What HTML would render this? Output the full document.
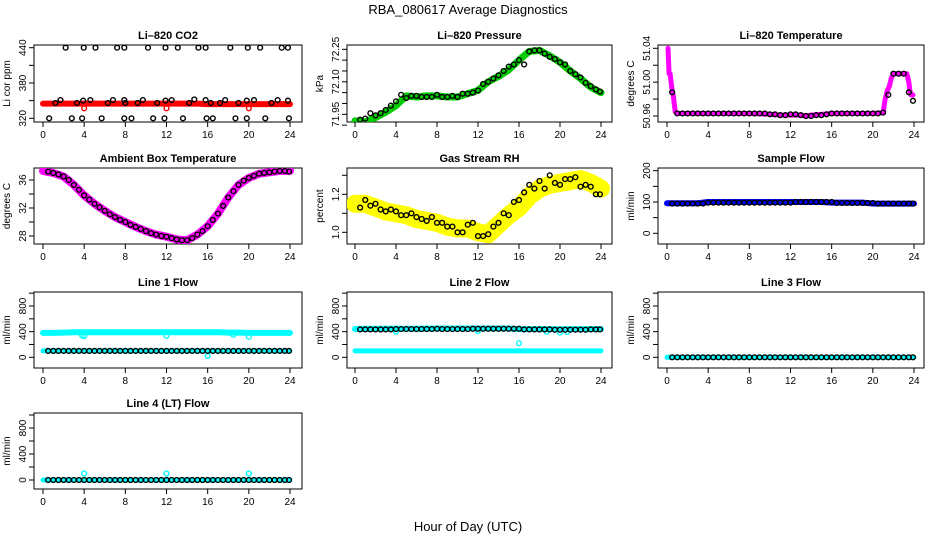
<!DOCTYPE html>
<html><head><meta charset="utf-8"><style>
html,body{margin:0;padding:0;background:#fff}
svg{display:block;font-family:"Liberation Sans",Arial,sans-serif}
</style></head><body>
<svg id="chart" width="936" height="540" viewBox="0 0 936 540">
<text x="468" y="14" font-size="13" text-anchor="middle">RBA_080617  Average Diagnostics</text>
<text x="468" y="531" font-size="13" text-anchor="middle">Hour of Day (UTC)</text>
</svg>
<script>
const blackHours=[0.5,1,1.5,2,2.5,3,3.5,4,4.5,5,5.5,6,6.5,7,7.5,8,8.5,9,9.5,10,10.5,11,11.5,12,12.5,13,13.5,14,14.5,15,15.5,16,16.5,17,17.5,18,18.5,19,19.5,20,20.5,21,21.5,22,22.5,23,23.5,23.9];
const bandHours=[0,1,2,3,4,5,6,7,8,9,10,11,12,13,14,15,16,17,18,19,20,21,22,23,24];

const co2Band=[345,345,345,345,345,345,345,345,345,345,345,345,345,345,345,345,344,344,344,344,344,344,344,344,344];
const co2HighHours=[2.2,3.96,5.1,7.2,7.9,10.2,11.9,13.1,15.1,15.8,18.2,19.9,21.1,23.2,23.8];
const co2LowHours=[0.6,2.8,3.8,5.7,7.9,8.6,10.7,11.8,13.6,15.9,16.5,18.7,19.8,21.6,23.9];
const co2MidHours=[1.2,1.7,3.3,3.9,4.6,6.3,6.8,7.9,8.0,9.2,9.7,11.1,11.9,12.5,14.2,14.7,15.8,16.3,17.2,17.7,19.0,19.8,20.5,22.2,22.8,23.8];
const co2MidValues=[346,351,346,350,351,346,351,351,346,346,351,346,350,351,346,352,351,346,346,351,346,350,351,346,351,350];
const co2RedOutHours=[4,12,20];
const co2RedOutValues=[337,337,337];

const presBand=[71.92,71.915,71.935,71.96,71.99,72.035,72.03,72.035,72.035,72.03,72.03,72.045,72.06,72.10,72.125,72.155,72.20,72.24,72.245,72.22,72.19,72.15,72.115,72.075,72.05];
const presBlack=[71.925,71.93,71.955,71.945,71.955,71.97,71.99,72.01,72.04,72.025,72.035,72.035,72.03,72.03,72.03,72.04,72.03,72.03,72.035,72.03,72.045,72.045,72.05,72.06,72.09,72.10,72.115,72.13,72.15,72.17,72.18,72.2,72.18,72.24,72.245,72.245,72.23,72.215,72.205,72.19,72.18,72.15,72.135,72.12,72.095,72.08,72.065,72.055];

const ltempHours=[0.1,0.2,0.3,0.4,0.5,0.6,0.7,0.8,1,4,8,10,11,12,13,13.5,14,15,16,20,21,21.2,21.4,21.6,21.8,22,22.5,23,23.3,23.5,23.6,23.7,23.9];
const ltempBand=[51.04,51.01,51.01,51.0,50.99,50.985,50.975,50.965,50.963,50.963,50.963,50.962,50.961,50.961,50.961,50.960,50.961,50.962,50.963,50.963,50.964,50.98,50.99,50.995,51.005,51.01,51.01,51.01,51.01,51.0,50.99,50.985,50.985];
const ltempBlack=[50.988,50.963,50.963,50.963,50.963,50.963,50.963,50.963,50.963,50.963,50.963,50.963,50.963,50.963,50.963,50.963,50.963,50.963,50.963,50.962,50.962,50.961,50.961,50.962,50.962,50.961,50.960,50.960,50.961,50.961,50.962,50.963,50.963,50.963,50.963,50.963,50.963,50.963,50.963,50.963,50.963,50.964,50.985,51.01,51.01,51.01,50.988,50.978];

const ambBand=[37.3,37.0,36.5,35.3,33.8,32.6,31.6,30.7,30.0,29.3,28.7,28.2,27.9,27.5,27.4,28.2,29.4,31.2,33.5,35.3,36.3,36.9,37.1,37.3,37.3];
const ambBlack=[37.2,37.0,36.8,36.5,36.0,35.3,34.6,33.8,33.2,32.6,32.1,31.6,31.1,30.7,30.3,30.0,29.6,29.3,29.0,28.7,28.4,28.2,28.0,27.9,27.7,27.5,27.4,27.4,27.7,28.2,28.7,29.4,30.3,31.2,32.3,33.5,34.4,35.3,35.9,36.3,36.6,36.9,37.0,37.1,37.2,37.3,37.3,37.2];

const rhBand=[1.15,1.15,1.13,1.11,1.10,1.09,1.07,1.06,1.05,1.03,1.02,1.02,1.00,0.99,1.04,1.09,1.13,1.19,1.23,1.25,1.26,1.27,1.28,1.26,1.23];
const rhBlack=[1.13,1.17,1.14,1.15,1.12,1.11,1.12,1.11,1.09,1.09,1.10,1.08,1.07,1.06,1.08,1.05,1.05,1.03,1.03,1.00,1.00,1.04,1.05,0.98,0.98,0.99,1.03,1.05,1.10,1.09,1.16,1.17,1.21,1.25,1.23,1.27,1.23,1.30,1.26,1.25,1.28,1.28,1.29,1.24,1.25,1.24,1.20,1.20];

const sampleBand=[96,96,96,96,100,100,100,100,100,100,100,100,100,100,100,100,98,98,98,98,95,95,95,95,95];
const sampleBlack=[95,95,95,95,95,95,95,98,98,98,98,98,98,98,98,98,98,98,98,98,98,98,98,98,100,100,100,100,100,100,100,100,97,97,97,97,97,97,97,97,95,95,95,95,95,95,95,95];

const line1HighBand=[380,380,385,390,390,390,390,390,390,390,390,390,390,390,390,390,390,390,385,385,380,380,380,380,380];
const line1LowBand=[100,100,100,100,100,100,100,100,100,100,100,100,100,100,100,100,100,100,100,100,100,100,100,100,100];
const line1Black=[100,100,100,100,100,100,100,100,100,100,100,100,100,100,100,100,100,100,100,100,100,100,100,100,100,100,100,100,100,100,100,100,100,100,100,100,100,100,100,100,100,100,100,100,100,100,100,100];
const line1OutHours=[3.8,4,12,16,18.5,20];
const line1OutValues=[340,330,335,20,350,320];

const line2HighBand=[440,445,445,445,445,445,445,450,450,450,450,450,450,450,450,450,440,440,440,440,435,440,440,440,440];
const line2LowBand=[100,100,100,100,100,100,100,100,100,100,100,100,100,100,100,100,100,100,100,100,100,100,100,100,100];
const line2Black=[435,435,435,435,435,435,435,440,440,440,440,440,440,440,440,445,440,440,440,440,440,440,445,445,445,445,445,445,445,445,445,445,435,435,435,435,435,435,430,430,430,430,430,430,430,435,435,435];
const line2OutHours=[4,12,16,18.7,20,20.7];
const line2OutValues=[400,410,220,400,385,395];

const line3Band=[0,0,0,0,0,0,0,0,0,0,0,0,0,0,0,0,0,0,0,0,0,0,0,0,0];
const line3Black=[0,0,0,0,0,0,0,0,0,0,0,0,0,0,0,0,0,0,0,0,0,0,0,0,0,0,0,0,0,0,0,0,0,0,0,0,0,0,0,0,0,0,0,0,0,0,0,0];
const line4Band=[0,0,0,0,0,0,0,0,0,0,0,0,0,0,0,0,0,0,0,0,0,0,0,0,0];
const line4Black=[0,0,0,0,0,0,0,0,0,0,0,0,0,0,0,0,0,0,0,0,0,0,0,0,0,0,0,0,0,0,0,0,0,0,0,0,0,0,0,0,0,0,0,0,0,0,0,0];
const line4OutHours=[4,12,20];
const line4OutValues=[100,100,100];

const xTicks=[0,4,8,12,16,20,24];

const svg=document.getElementById('chart');
const NS='http://www.w3.org/2000/svg';
function mk(tag,attrs,parent){const e=document.createElementNS(NS,tag);for(const k in attrs)e.setAttribute(k,attrs[k]);(parent||svg).appendChild(e);return e;}

const cols=[{l:34,r:302,x0:43,x24:290},{l:347,r:612,x0:355,x24:601},{l:658,r:924,x0:667,x24:914}];
const rows=[{t:45,b:122},{t:168,b:244},{t:292,b:368},{t:413,b:489}];

function panel(o){
  const c=cols[o.col],r=rows[o.row];
  const g=mk('g',{});
  
  
  const xs=h=>c.x0+(c.x24-c.x0)*h/24;
  const ys=v=>o.p0+(o.p1-o.p0)*(v-o.v0)/(o.v1-o.v0);
  const t=mk('text',{x:(c.l+c.r)/2,y:r.t-6,'font-size':11,'font-weight':'bold','text-anchor':'middle'},g);
  t.textContent=o.title;
  
  
  const bx=mk('rect',{x:c.l,y:r.t,width:c.r-c.l,height:r.b-r.t,fill:'none',stroke:'#000','stroke-width':1},g);
  
  
  const clip='clip'+o.name;
  const cp=mk('clipPath',{id:clip},g);mk('rect',{x:c.l,y:r.t,width:c.r-c.l,height:r.b-r.t},cp);
  const dg=mk('g',{'clip-path':'url(#'+clip+')'},g);
  
  
  xTicks.forEach(h=>{
    mk('line',{x1:xs(h),x2:xs(h),y1:r.b,y2:r.b+5,stroke:'#000'},g);
    const tl=mk('text',{x:xs(h),y:r.b+16,'font-size':10,'text-anchor':'middle'},g);
    tl.textContent=h;
    
    
  });
  o.yTicks.forEach(v=>{
    mk('line',{x1:c.l,x2:c.l-5,y1:ys(v),y2:ys(v),stroke:'#000'},g);
  });
  o.yLabels.forEach((v,i)=>{
    const yy=ys(v),xx=c.l-8;
    const tl=mk('text',{x:xx,y:yy,'font-size':10,'text-anchor':'middle',transform:`rotate(-90 ${xx} ${yy})`},g);
    tl.textContent=o.yLabelText[i];
    
    
  });
  const yl=mk('text',{x:c.l-24,y:(r.t+r.b)/2,'font-size':10,'text-anchor':'middle',transform:`rotate(-90 ${c.l-24} ${(r.t+r.b)/2})`},g);
  yl.textContent=o.ylab;
  
  
  (o.bands||[]).forEach(b=>{
    const pts=b.h.map((h,i)=>xs(h)+','+ys(b.v[i])).join(' ');
    const pl=mk('polyline',{points:pts,fill:'none',stroke:b.color,'stroke-width':b.w,'stroke-linecap':'round','stroke-linejoin':'round'},dg);
    
    
  });
  (o.points||[]).forEach(s=>{
    s.h.forEach((h,i)=>{
      if(i>=s.v.length)return;
      const ci=mk('circle',{cx:xs(h),cy:ys(s.v[i]),r:2.4,fill:'none',stroke:s.color,'stroke-width':1.4},dg);
      
      
    });
  });
}

const flowTicks=[0,200,400,600,800,1000];
panel({name:'co2-panel',title:'Li\u2013820 CO2',col:0,row:0,ylab:'Li cor ppm',v0:320,p0:118.3,v1:440,p1:47.7,
  yTicks:[320,350,380,410,440],yLabels:[320,380,440],yLabelText:['320','380','440'],
  bands:[{h:bandHours,v:co2Band,color:'#ff0000',w:6}],
  points:[{h:co2RedOutHours,v:co2RedOutValues,color:'#ff0000'},
    {h:co2HighHours,v:co2HighHours.map(()=>440),color:'#000'},
    {h:co2LowHours,v:co2LowHours.map(()=>320),color:'#000'},
    {h:co2MidHours,v:co2MidValues,color:'#000'}]});
panel({name:'pressure-panel',title:'Li\u2013820 Pressure',col:1,row:0,ylab:'kPa',v0:71.95,p0:114.3,v1:72.25,p1:49.3,
  yTicks:[71.9,71.95,72.0,72.05,72.1,72.15,72.2,72.25],yLabels:[71.95,72.1,72.25],yLabelText:['71.95','72.10','72.25'],
  bands:[{h:bandHours,v:presBand,color:'#00cc00',w:7}],
  points:[{h:blackHours,v:presBlack,color:'#000'}]});
panel({name:'li820-temperature-panel',title:'Li\u2013820 Temperature',col:2,row:0,ylab:'degrees C',v0:50.96,p0:116,v1:51.04,p1:48.3,
  yTicks:[50.96,50.98,51.0,51.02,51.04],yLabels:[50.96,51.0,51.04],yLabelText:['50.96','51.00','51.04'],
  bands:[{h:ltempHours,v:ltempBand,color:'#ff00ff',w:5}],
  points:[{h:blackHours,v:ltempBlack,color:'#000'}]});
panel({name:'ambient-temperature-panel',title:'Ambient Box Temperature',col:0,row:1,ylab:'degrees C',v0:28,p0:236,v1:36,p1:180,
  yTicks:[28,30,32,34,36],yLabels:[28,32,36],yLabelText:['28','32','36'],
  bands:[{h:bandHours,v:ambBand,color:'#ff00ff',w:8}],
  points:[{h:blackHours,v:ambBlack,color:'#000'}]});
panel({name:'gas-stream-rh-panel',title:'Gas Stream RH',col:1,row:1,ylab:'percent',v0:1.0,p0:232.3,v1:1.2,p1:194.3,
  yTicks:[1.0,1.1,1.2,1.3],yLabels:[1.0,1.2],yLabelText:['1.0','1.2'],
  bands:[{h:bandHours,v:rhBand,color:'#ffff00',w:18}],
  points:[{h:blackHours,v:rhBlack,color:'#000'}]});
panel({name:'sample-flow-panel',title:'Sample Flow',col:2,row:1,ylab:'ml/min',v0:0,p0:233.3,v1:200,p1:170.7,
  yTicks:[0,50,100,150,200],yLabels:[0,100,200],yLabelText:['0','100','200'],
  bands:[{h:bandHours,v:sampleBand,color:'#0000ff',w:6}],
  points:[{h:blackHours,v:sampleBlack,color:'#000'}]});
panel({name:'line1-flow-panel',title:'Line 1 Flow',col:0,row:2,ylab:'ml/min',v0:0,p0:357.3,v1:800,p1:306,
  yTicks:flowTicks,yLabels:[0,400,800],yLabelText:['0','400','800'],
  bands:[{h:bandHours,v:line1HighBand,color:'#00ffff',w:6},{h:bandHours,v:line1LowBand,color:'#00ffff',w:5}],
  points:[{h:line1OutHours,v:line1OutValues,color:'#00ffff'},{h:blackHours,v:line1Black,color:'#000'}]});
panel({name:'line2-flow-panel',title:'Line 2 Flow',col:1,row:2,ylab:'ml/min',v0:0,p0:357.3,v1:800,p1:306,
  yTicks:flowTicks,yLabels:[0,400,800],yLabelText:['0','400','800'],
  bands:[{h:bandHours,v:line2HighBand,color:'#00ffff',w:6},{h:bandHours,v:line2LowBand,color:'#00ffff',w:5}],
  points:[{h:line2OutHours,v:line2OutValues,color:'#00ffff'},{h:blackHours,v:line2Black,color:'#000'}]});
panel({name:'line3-flow-panel',title:'Line 3 Flow',col:2,row:2,ylab:'ml/min',v0:0,p0:357.3,v1:800,p1:306,
  yTicks:flowTicks,yLabels:[0,400,800],yLabelText:['0','400','800'],
  bands:[{h:bandHours,v:line3Band,color:'#00ffff',w:5}],
  points:[{h:blackHours,v:line3Black,color:'#000'}]});
panel({name:'line4-flow-panel',title:'Line 4 (LT) Flow',col:0,row:3,ylab:'ml/min',v0:0,p0:480,v1:800,p1:428,
  yTicks:flowTicks,yLabels:[0,400,800],yLabelText:['0','400','800'],
  bands:[{h:bandHours,v:line4Band,color:'#00ffff',w:5}],
  points:[{h:line4OutHours,v:line4OutValues,color:'#00ffff'},{h:blackHours,v:line4Black,color:'#000'}]});
</script>
</body></html>
